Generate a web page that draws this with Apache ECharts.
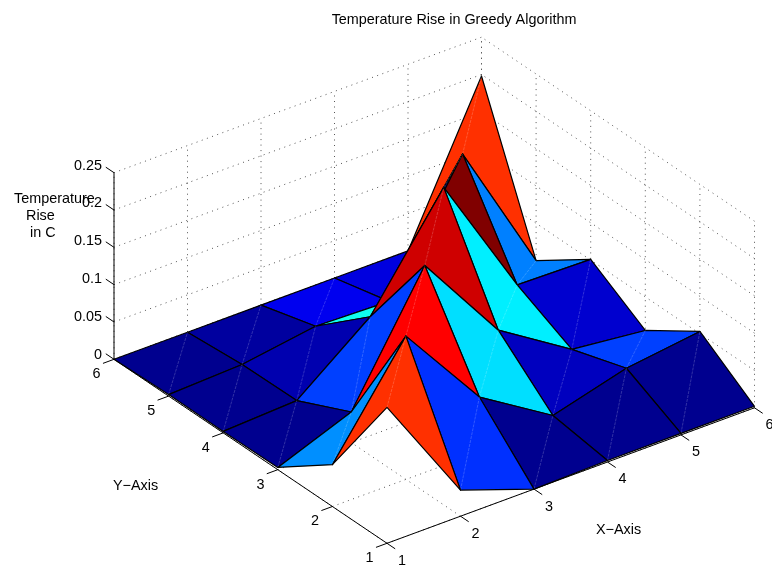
<!DOCTYPE html>
<html>
<head>
<meta charset="utf-8">
<style>html,body{margin:0;padding:0;background:#fff}#c{width:772px;height:573px}</style>
<script src="https://cdn.jsdelivr.net/npm/echarts@6/dist/echarts.min.js"></script>
</head>
<body>
<div id="c"></div>
<script>
// ---- data ----
var titleText = 'Temperature Rise in Greedy Algorithm';
var xLabel = 'X\u2212Axis';
var yLabel = 'Y\u2212Axis';
var zLabel = 'Temperature\n   Rise\n    in C';
var xTicks = [1, 2, 3, 4, 5, 6];
var yTicks = [1, 2, 3, 4, 5, 6];
var zTicks = [0, 0.05, 0.1, 0.15, 0.2, 0.25];
var zTickLabels = ['0', '0.05', '0.1', '0.15', '0.2', '0.25'];
var zAtY1 = [0.182, 0.035, 0.000, 0.002, 0.002, 0.002];
var zAtY2 = [0.056, 0.192, 0.074, 0.013, 0.040, 0.053];
var zAtY3 = [0.003, 0.041, 0.201, 0.078, 0.016, 0.005];
var zAtY4 = [0.002, 0.007, 0.083, 0.220, 0.053, 0.051];
var zAtY5 = [0.002, 0.006, 0.021, 0.018, 0.179, 0.000];
var zAtY6 = [0.000, 0.000, 0.000, 0.000, 0.000, 0.198];
var zRows = [zAtY1, zAtY2, zAtY3, zAtY4, zAtY5, zAtY6];

// ---- fixed orthographic view (azimuth/elevation of the 3-D box) ----
var view = {ox: 387, oy: 543.3, xdx: 73.5, xdy: -27.1, ydx: -54.6, ydy: -36.8, zdy: -746.4};
function project(x, y, z) {
  return [
    view.ox + view.xdx * (x - 1) + view.ydx * (y - 1),
    view.oy + view.xdy * (x - 1) + view.ydy * (y - 1) + view.zdy * z
  ];
}

// MATLAB jet(64) with flat shading
var zMax = Math.max.apply(null, zRows.map(function (r) { return Math.max.apply(null, r); }));
function jet(z) {
  var i = Math.min(64, Math.floor(z / zMax * 64) + 1);
  var clamp = function (v) { return Math.round(255 * Math.max(0, Math.min(1, v))); };
  var r = i <= 24 ? 0 : i <= 40 ? (i - 24) / 16 : i <= 56 ? 1 : 1 - (i - 56) / 16;
  var g = i <= 8 ? 0 : i <= 24 ? (i - 8) / 16 : i <= 40 ? 1 : i <= 56 ? 1 - (i - 40) / 16 : 0;
  var b = i <= 8 ? 0.5 + i / 16 : i <= 24 ? 1 : i <= 40 ? 1 - (i - 24) / 16 : 0;
  return 'rgb(' + clamp(r) + ',' + clamp(g) + ',' + clamp(b) + ')';
}

// surface cells, far corner first (painter's order)
var cells = [];
for (var sum = xTicks.length + yTicks.length - 2; sum >= 0; sum--) {
  for (var j = 0; j < yTicks.length - 1; j++) {
    var i = sum - j;
    if (i >= 0 && i < xTicks.length - 1) cells.push([i, j]);
  }
}

// dotted grid on floor and the two back walls
var x0 = xTicks[0], x1 = xTicks[xTicks.length - 1];
var y0 = yTicks[0], y1 = yTicks[yTicks.length - 1];
var z0 = zTicks[0], z1 = zTicks[zTicks.length - 1];
var gridSegs = [];
xTicks.forEach(function (x) {
  gridSegs.push([x, y0, z0, x, y1, z0]);
  gridSegs.push([x, y1, z0, x, y1, z1]);
});
yTicks.forEach(function (y) {
  gridSegs.push([x0, y, z0, x1, y, z0]);
  gridSegs.push([x1, y, z0, x1, y, z1]);
});
zTicks.forEach(function (z) {
  gridSegs.push([x0, y1, z, x1, y1, z]);
  gridSegs.push([x1, y0, z, x1, y1, z]);
});

// solid axes and tick marks
var tickFrac = 0.15;
var axisSegs = [[x0, y0, z0, x1, y0, z0], [x0, y0, z0, x0, y1, z0], [x0, y1, z0, x0, y1, z1]];
xTicks.forEach(function (x) { axisSegs.push([x, y0, z0, x, y0 - tickFrac, z0]); });
yTicks.forEach(function (y) { axisSegs.push([x0, y, z0, x0 - tickFrac, y, z0]); });
zTicks.forEach(function (z) { axisSegs.push([x0, y1, z, x0, y1 + tickFrac, z]); });

// tick labels: text, 3-D anchor, pixel offset, alignment
var tickLabels = [];
xTicks.forEach(function (x) { tickLabels.push([String(x), x, y0, z0, 15, 17.5, 'center']); });
yTicks.forEach(function (y) { tickLabels.push([String(y), x0, y, z0, -17.4, 15, 'center']); });
zTicks.forEach(function (z, k) { tickLabels.push([zTickLabels[k], x0, y1, z, -12, -4.5 - 10 * z, 'right']); });

var FONT = '14.4px "Liberation Sans", Arial, sans-serif';

function segItem(dash, color, width) {
  return function (params, api) {
    var a = api.coord(project(api.value(0), api.value(1), api.value(2)));
    var b = api.coord(project(api.value(3), api.value(4), api.value(5)));
    return {
      type: 'line',
      shape: {x1: a[0], y1: a[1], x2: b[0], y2: b[1]},
      style: {stroke: color, lineWidth: width, lineDash: dash}
    };
  };
}

function cellItem(params, api) {
  var i = api.value(0), j = api.value(1);
  var pt = function (a, b) { return api.coord(project(xTicks[a], yTicks[b], zRows[b][a])); };
  var p00 = pt(i, j), p10 = pt(i + 1, j), p11 = pt(i + 1, j + 1), p01 = pt(i, j + 1);
  return {
    type: 'group',
    children: [
      {type: 'polygon', shape: {points: [p00, p10, p11, p01]},
        style: {fill: jet(zRows[j][i]), stroke: '#000', lineWidth: 1.2, lineJoin: 'round'}},
      {type: 'line', shape: {x1: p00[0], y1: p00[1], x2: p11[0], y2: p11[1]},
        style: {stroke: 'rgba(255,255,255,0.32)', lineWidth: 0.6, lineDash: [3, 1]}}
    ]
  };
}

function labelItem(params, api) {
  var d = tickLabels[params.dataIndex];
  var p = api.coord(project(d[1], d[2], d[3]));
  return {
    type: 'text',
    style: {text: d[0], x: p[0] + d[4], y: p[1] + d[5], align: d[6], verticalAlign: 'middle',
      fill: '#000', font: FONT}
  };
}

var chart = echarts.init(document.getElementById('c'), null, {renderer: 'canvas'});
chart.setOption({
  animation: false,
  backgroundColor: '#fff',
  title: {
    text: titleText, left: 449, top: 8, textAlign: 'center',
    textStyle: {fontFamily: '"Liberation Sans", Arial, sans-serif', fontSize: 14.4, fontWeight: 'normal', color: '#000'}
  },
  grid: {left: 0, right: 0, top: 0, bottom: 0},
  xAxis: {type: 'value', min: 0, max: 772, show: false},
  yAxis: {type: 'value', min: 0, max: 573, inverse: true, show: false},
  tooltip: {show: false},
  graphic: [
    {type: 'text', left: 596, top: 523, style: {text: xLabel, font: FONT, fill: '#000'}},
    {type: 'text', left: 113, top: 479, style: {text: yLabel, font: FONT, fill: '#000'}},
    {type: 'text', left: 14, top: 191, z: 100, style: {text: zLabel, font: FONT, fill: '#000', lineHeight: 17}}
  ],
  series: [
    {type: 'custom', silent: true, clip: false, data: gridSegs, renderItem: segItem([1, 4.5], '#555', 1)},
    {type: 'custom', silent: true, clip: false, data: axisSegs, renderItem: segItem(null, '#000', 1)},
    {type: 'custom', silent: true, clip: false, data: cells, renderItem: cellItem},
    {type: 'custom', silent: true, clip: false, data: tickLabels.map(function (d, k) { return [k]; }), renderItem: labelItem}
  ]
});
</script>
</body>
</html>
